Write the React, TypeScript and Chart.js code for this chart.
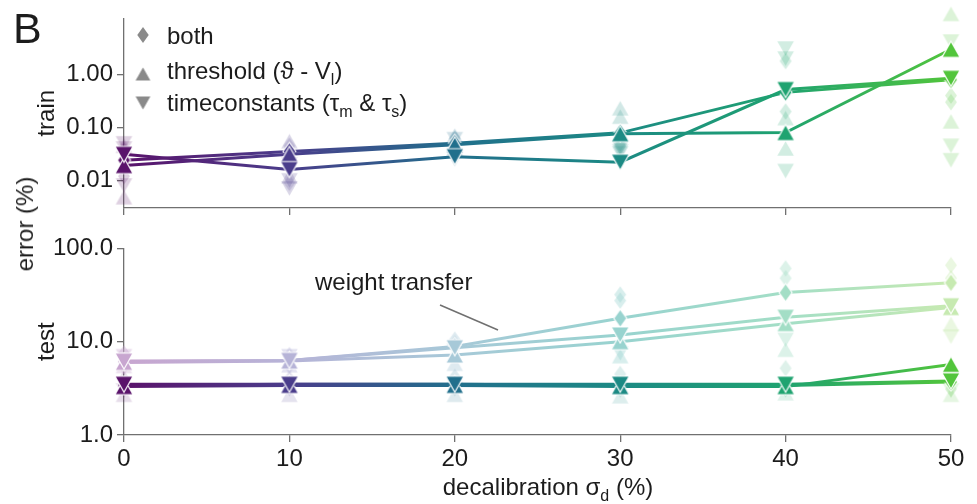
import React, { useEffect, useRef } from 'react';
import { Chart, registerables } from 'chart.js';

Chart.register(...registerables);

const FONT = "'Liberation Sans', Arial, Helvetica, sans-serif";
const TEXT = '#1c1c1c';
const AXIS = '#707070';

// ---------- data ----------
const decalibration = [0, 10, 20, 30, 40, 50];
const xTickLabels = ['0', '10', '20', '30', '40', '50'];

const trainTicks = [0.01, 0.1, 1];
const trainTickLabels = ['0.01', '0.10', '1.00'];
const testTicks = [1, 10, 100];
const testTickLabels = ['1.0', '10.0', '100.0'];

const colorsDark = ['#5a136b', '#4a3d8b', '#216f8c', '#1c8a84', '#1fa370', '#52c53b'];
const colorsLight = ['#c8a6d0', '#b6b3d7', '#a7c9d8', '#98d3cf', '#a3dec6', '#c7eab1'];

// train error (%), mean per decalibration
const trainBoth = [0.024, 0.035, 0.05, 0.079, 0.46, 0.8];
const trainThreshold = [0.019, 0.031, 0.047, 0.076, 0.08, 3.0];
const trainTimeconstants = [0.031, 0.016, 0.028, 0.022, 0.52, 0.85];
// individual runs (faded)
const trainBothRuns = [
  [0.037, 0.045, 0.062, 0.045, 1.8, 0.4],
  [0.012, 0.009, 0.035, 0.05, 0.2, 0.3],
];
const trainThresholdRuns = [
  [0.0048, 0.055, 0.07, 0.23, 0.15, 14],
  [0.045, 0.012, 0.04, 0.16, 0.04, 0.13],
];
const trainTimeconstantsRuns = [
  [0.05, 0.007, 0.03, 0.04, 3.1, 4.2],
  [0.008, 0.01, 0.025, 0.035, 0.015, 0.045],
  [0.04, 0.02, 0.06, 0.032, 2.0, 0.024],
];

// test error (%)
const testBoth = [3.4, 3.5, 3.5, 3.4, 3.4, 3.7];
const testThreshold = [3.3, 3.4, 3.4, 3.3, 3.3, 5.7];
const testTimeconstants = [3.5, 3.5, 3.5, 3.5, 3.5, 3.8];
const transferBoth = [6.1, 6.3, 8.9, 17.8, 33.6, 42.8];
const transferThreshold = [6.0, 6.2, 7.2, 10.0, 15.6, 23.2];
const transferTimeconstants = [6.2, 6.3, 8.6, 11.8, 18.3, 24.3];
const testBothRuns = [[4.0, 4.0, 4.2, 4.5, 5.2, 3.1]];
const testThresholdRuns = [[2.7, 2.7, 2.7, 2.6, 2.8, 2.7]];
const testTimeconstantsRuns = [[3.0, 3.1, 3.1, 3.0, 3.0, 3.0]];
const transferBothRuns = [
  [7.5, 7.2, 10.5, 32, 61, 66],
  [5.4, 5.5, 9.6, 27.6, 48, 48],
];
const transferThresholdRuns = [[5.5, 5.6, 5.8, 7.0, 8.2, 15.5]];
const transferTimeconstantsRuns = [[7.0, 7.0, 8.0, 7.5, 10.5, 11.3]];

const panelLetter = 'B';
const trainTitle = 'train';
const testTitle = 'test';
const yTitle = 'error (%)';
const annotationText = 'weight transfer';
type Part = { t: string; sub?: boolean };
const legendLabels: Part[][] = [
  [{ t: 'both' }],
  [{ t: 'threshold (ϑ - V' }, { t: 'l', sub: true }, { t: ')' }],
  [{ t: 'timeconstants (τ' }, { t: 'm', sub: true }, { t: ' & τ' }, { t: 's', sub: true }, { t: ')' }],
];
const legendShapes = ['diamond', 'up', 'down'];
const xTitle: Part[] = [{ t: 'decalibration σ' }, { t: 'd', sub: true }, { t: ' (%)' }];

// ---------- helpers ----------
function hexToRgb(h: string) {
  const n = parseInt(h.slice(1), 16);
  return [(n >> 16) & 255, (n >> 8) & 255, n & 255];
}

function makeMarker(shape: string, color: string, alpha: number, edge: boolean, scale = 1) {
  const w = (shape === 'diamond' ? 13 : 18) * scale;
  const h = (shape === 'diamond' ? 18 : 16) * scale;
  const pad = 2;
  const c = document.createElement('canvas');
  c.width = Math.ceil(w + pad * 2);
  c.height = Math.ceil(h + pad * 2);
  const g = c.getContext('2d')!;
  const cx = c.width / 2;
  const cy = c.height / 2;
  g.beginPath();
  if (shape === 'diamond') {
    g.moveTo(cx, cy - h / 2);
    g.lineTo(cx + w / 2, cy);
    g.lineTo(cx, cy + h / 2);
    g.lineTo(cx - w / 2, cy);
  } else if (shape === 'up') {
    g.moveTo(cx, cy - h / 2);
    g.lineTo(cx + w / 2, cy + h / 2);
    g.lineTo(cx - w / 2, cy + h / 2);
  } else {
    g.moveTo(cx - w / 2, cy - h / 2);
    g.lineTo(cx + w / 2, cy - h / 2);
    g.lineTo(cx, cy + h / 2);
  }
  g.closePath();
  const [r, gg, b] = hexToRgb(color);
  g.fillStyle = `rgba(${r},${gg},${b},${alpha})`;
  g.fill();
  if (edge) {
    g.strokeStyle = 'rgba(255,255,255,0.95)';
    g.lineWidth = 1.2;
    g.stroke();
  }
  return c;
}

function lineGradient(chart: any, colors: string[]) {
  const { ctx, chartArea, scales } = chart;
  if (!chartArea || !scales.x) return colors[0];
  const x0 = scales.x.getPixelForValue(decalibration[0]);
  const x1 = scales.x.getPixelForValue(decalibration[decalibration.length - 1]);
  const g = ctx.createLinearGradient(x0, 0, x1, 0);
  decalibration.forEach((d, i) => {
    g.addColorStop((scales.x.getPixelForValue(d) - x0) / (x1 - x0), colors[i]);
  });
  return g;
}

function pts(vals: number[]) {
  return decalibration.map((x, i) => ({ x, y: vals[i] }));
}

function mainDataset(vals: number[], shape: string, colors: string[], order: number) {
  return {
    data: pts(vals),
    borderColor: (c: any) => lineGradient(c.chart, colors),
    borderWidth: 3,
    tension: 0,
    pointStyle: colors.map((col) => makeMarker(shape, col, 1, true)),
    pointRadius: 9,
    pointBorderWidth: 0,
    clip: false,
    order,
  };
}

function fadedDatasets(runs: number[][], shape: string, colors: string[], alpha: number) {
  return runs.map((r) => ({
    data: pts(r),
    showLine: false,
    pointStyle: colors.map((col) => makeMarker(shape, col, alpha, false, 0.92)),
    pointRadius: 9,
    pointBorderWidth: 0,
    clip: false,
    order: 10,
  }));
}

function drawRich(ctx: CanvasRenderingContext2D, parts: Part[], x: number, y: number, size: number) {
  let cx = x;
  for (const p of parts) {
    const fs = p.sub ? Math.round(size * 0.68) : size;
    ctx.font = `${fs}px ${FONT}`;
    ctx.fillText(p.t, cx, y + (p.sub ? size * 0.24 : 0));
    cx += ctx.measureText(p.t).width;
  }
}

function richWidth(ctx: CanvasRenderingContext2D, parts: Part[], size: number) {
  let w = 0;
  for (const p of parts) {
    const fs = p.sub ? Math.round(size * 0.68) : size;
    ctx.font = `${fs}px ${FONT}`;
    w += ctx.measureText(p.t).width;
  }
  return w;
}

const axisGrid = { drawOnChartArea: false, drawTicks: true, tickLength: 7, color: AXIS, lineWidth: 1.3 };
const axisBorder = { color: AXIS, width: 1.3 };
const tickFont = { size: 24, family: FONT };

function xScale(showLabels: boolean, height: number) {
  return {
    type: 'linear',
    min: decalibration[0],
    max: decalibration[decalibration.length - 1],
    afterBuildTicks: (s: any) => {
      s.ticks = decalibration.map((v) => ({ value: v }));
    },
    afterFit: (s: any) => {
      s.height = height;
    },
    ticks: {
      display: showLabels,
      callback: (_v: any, i: number) => xTickLabels[i],
      font: tickFont,
      color: TEXT,
      padding: 3,
      maxRotation: 0,
    },
    grid: axisGrid,
    border: axisBorder,
  };
}

function yScale(min: number, max: number, ticks: number[], labels: string[], title: string) {
  return {
    type: 'logarithmic',
    min,
    max,
    afterBuildTicks: (s: any) => {
      s.ticks = ticks.map((v) => ({ value: v }));
    },
    afterFit: (s: any) => {
      s.width = 124;
    },
    ticks: {
      callback: (_v: any, i: number) => labels[i],
      font: tickFont,
      color: TEXT,
      padding: 4,
    },
    grid: axisGrid,
    border: axisBorder,
    title: {
      display: true,
      text: title,
      font: { size: 24, family: FONT },
      color: TEXT,
      padding: { top: 33, bottom: 0 },
    },
  };
}

const topDecor = {
  id: 'topDecor',
  afterDraw(chart: any) {
    const ctx: CanvasRenderingContext2D = chart.ctx;
    ctx.save();
    ctx.fillStyle = TEXT;
    ctx.textAlign = 'left';
    ctx.textBaseline = 'alphabetic';
    ctx.font = `43px ${FONT}`;
    ctx.fillText(panelLetter, 13, 43);
    const markerY = [35, 74, 103];
    const textY = [44, 79, 111];
    legendShapes.forEach((shape, i) => {
      const m = makeMarker(shape, '#8a8a8a', 1, false, shape === 'diamond' ? 0.88 : 0.82);
      ctx.drawImage(m, 143 - m.width / 2, markerY[i] - m.height / 2);
      ctx.fillStyle = TEXT;
      drawRich(ctx, legendLabels[i], 167, textY[i], 24);
    });
    ctx.restore();
  },
};

const bottomDecor = {
  id: 'bottomDecor',
  afterDraw(chart: any) {
    const ctx: CanvasRenderingContext2D = chart.ctx;
    ctx.save();
    ctx.fillStyle = TEXT;
    ctx.textAlign = 'left';
    ctx.textBaseline = 'alphabetic';
    ctx.font = `24px ${FONT}`;
    ctx.fillText(annotationText, 315, 60);
    ctx.strokeStyle = '#707070';
    ctx.lineWidth = 1.5;
    ctx.beginPath();
    ctx.moveTo(440, 75);
    ctx.lineTo(498, 100);
    ctx.stroke();
    const w = richWidth(ctx, xTitle, 24);
    drawRich(ctx, xTitle, 548 - w / 2, 265, 24);
    ctx.restore();
  },
};

export default function App() {
  const topRef = useRef<HTMLCanvasElement>(null);
  const botRef = useRef<HTMLCanvasElement>(null);

  useEffect(() => {
    const common = {
      responsive: false,
      animation: false as const,
      events: [] as any[],
      plugins: { legend: { display: false }, tooltip: { enabled: false } },
    };

    const top = new Chart(topRef.current!, {
      type: 'line',
      data: {
        datasets: [
          ...fadedDatasets(trainBothRuns, 'diamond', colorsDark, 0.2),
          ...fadedDatasets(trainThresholdRuns, 'up', colorsDark, 0.2),
          ...fadedDatasets(trainTimeconstantsRuns, 'down', colorsDark, 0.2),
          mainDataset(trainBoth, 'diamond', colorsDark, 3),
          mainDataset(trainThreshold, 'up', colorsDark, 2),
          mainDataset(trainTimeconstants, 'down', colorsDark, 1),
        ] as any,
      },
      options: {
        ...common,
        layout: { padding: { left: 0, right: 26, top: 17, bottom: 0 } },
        scales: {
          x: xScale(false, 22),
          y: yScale(0.003, 11.5, trainTicks, trainTickLabels, trainTitle),
        } as any,
      },
      plugins: [topDecor],
    });

    const bottom = new Chart(botRef.current!, {
      type: 'line',
      data: {
        datasets: [
          ...fadedDatasets(transferBothRuns, 'diamond', colorsLight, 0.38),
          ...fadedDatasets(transferThresholdRuns, 'up', colorsLight, 0.38),
          ...fadedDatasets(transferTimeconstantsRuns, 'down', colorsLight, 0.38),
          ...fadedDatasets(testBothRuns, 'diamond', colorsDark, 0.15),
          ...fadedDatasets(testThresholdRuns, 'up', colorsDark, 0.15),
          ...fadedDatasets(testTimeconstantsRuns, 'down', colorsDark, 0.15),
          mainDataset(transferBoth, 'diamond', colorsLight, 6),
          mainDataset(transferThreshold, 'up', colorsLight, 5),
          mainDataset(transferTimeconstants, 'down', colorsLight, 4),
          mainDataset(testBoth, 'diamond', colorsDark, 3),
          mainDataset(testThreshold, 'up', colorsDark, 2),
          mainDataset(testTimeconstants, 'down', colorsDark, 1),
        ] as any,
      },
      options: {
        ...common,
        layout: { padding: { left: 0, right: 26, top: 15, bottom: 0 } },
        scales: {
          x: xScale(true, 69),
          y: yScale(1, 100, testTicks, testTickLabels, testTitle),
        } as any,
      },
      plugins: [bottomDecor],
    });

    return () => {
      top.destroy();
      bottom.destroy();
    };
  }, []);

  return (
    <div
      style={{
        position: 'fixed',
        left: 0,
        top: 0,
        width: 977,
        height: 504,
        background: '#ffffff',
        overflow: 'hidden',
      }}
    >
      <canvas ref={topRef} width={977} height={230} style={{ position: 'absolute', left: 0, top: 0 }} />
      <canvas ref={botRef} width={977} height={274} style={{ position: 'absolute', left: 0, top: 230 }} />
      <div
        style={{
          position: 'absolute',
          left: 25,
          top: 224,
          transform: 'translate(-50%, -50%) rotate(-90deg)',
          font: `24px ${FONT}`,
          color: TEXT,
          whiteSpace: 'nowrap',
          lineHeight: 1,
        }}
      >
        {yTitle}
      </div>
    </div>
  );
}
